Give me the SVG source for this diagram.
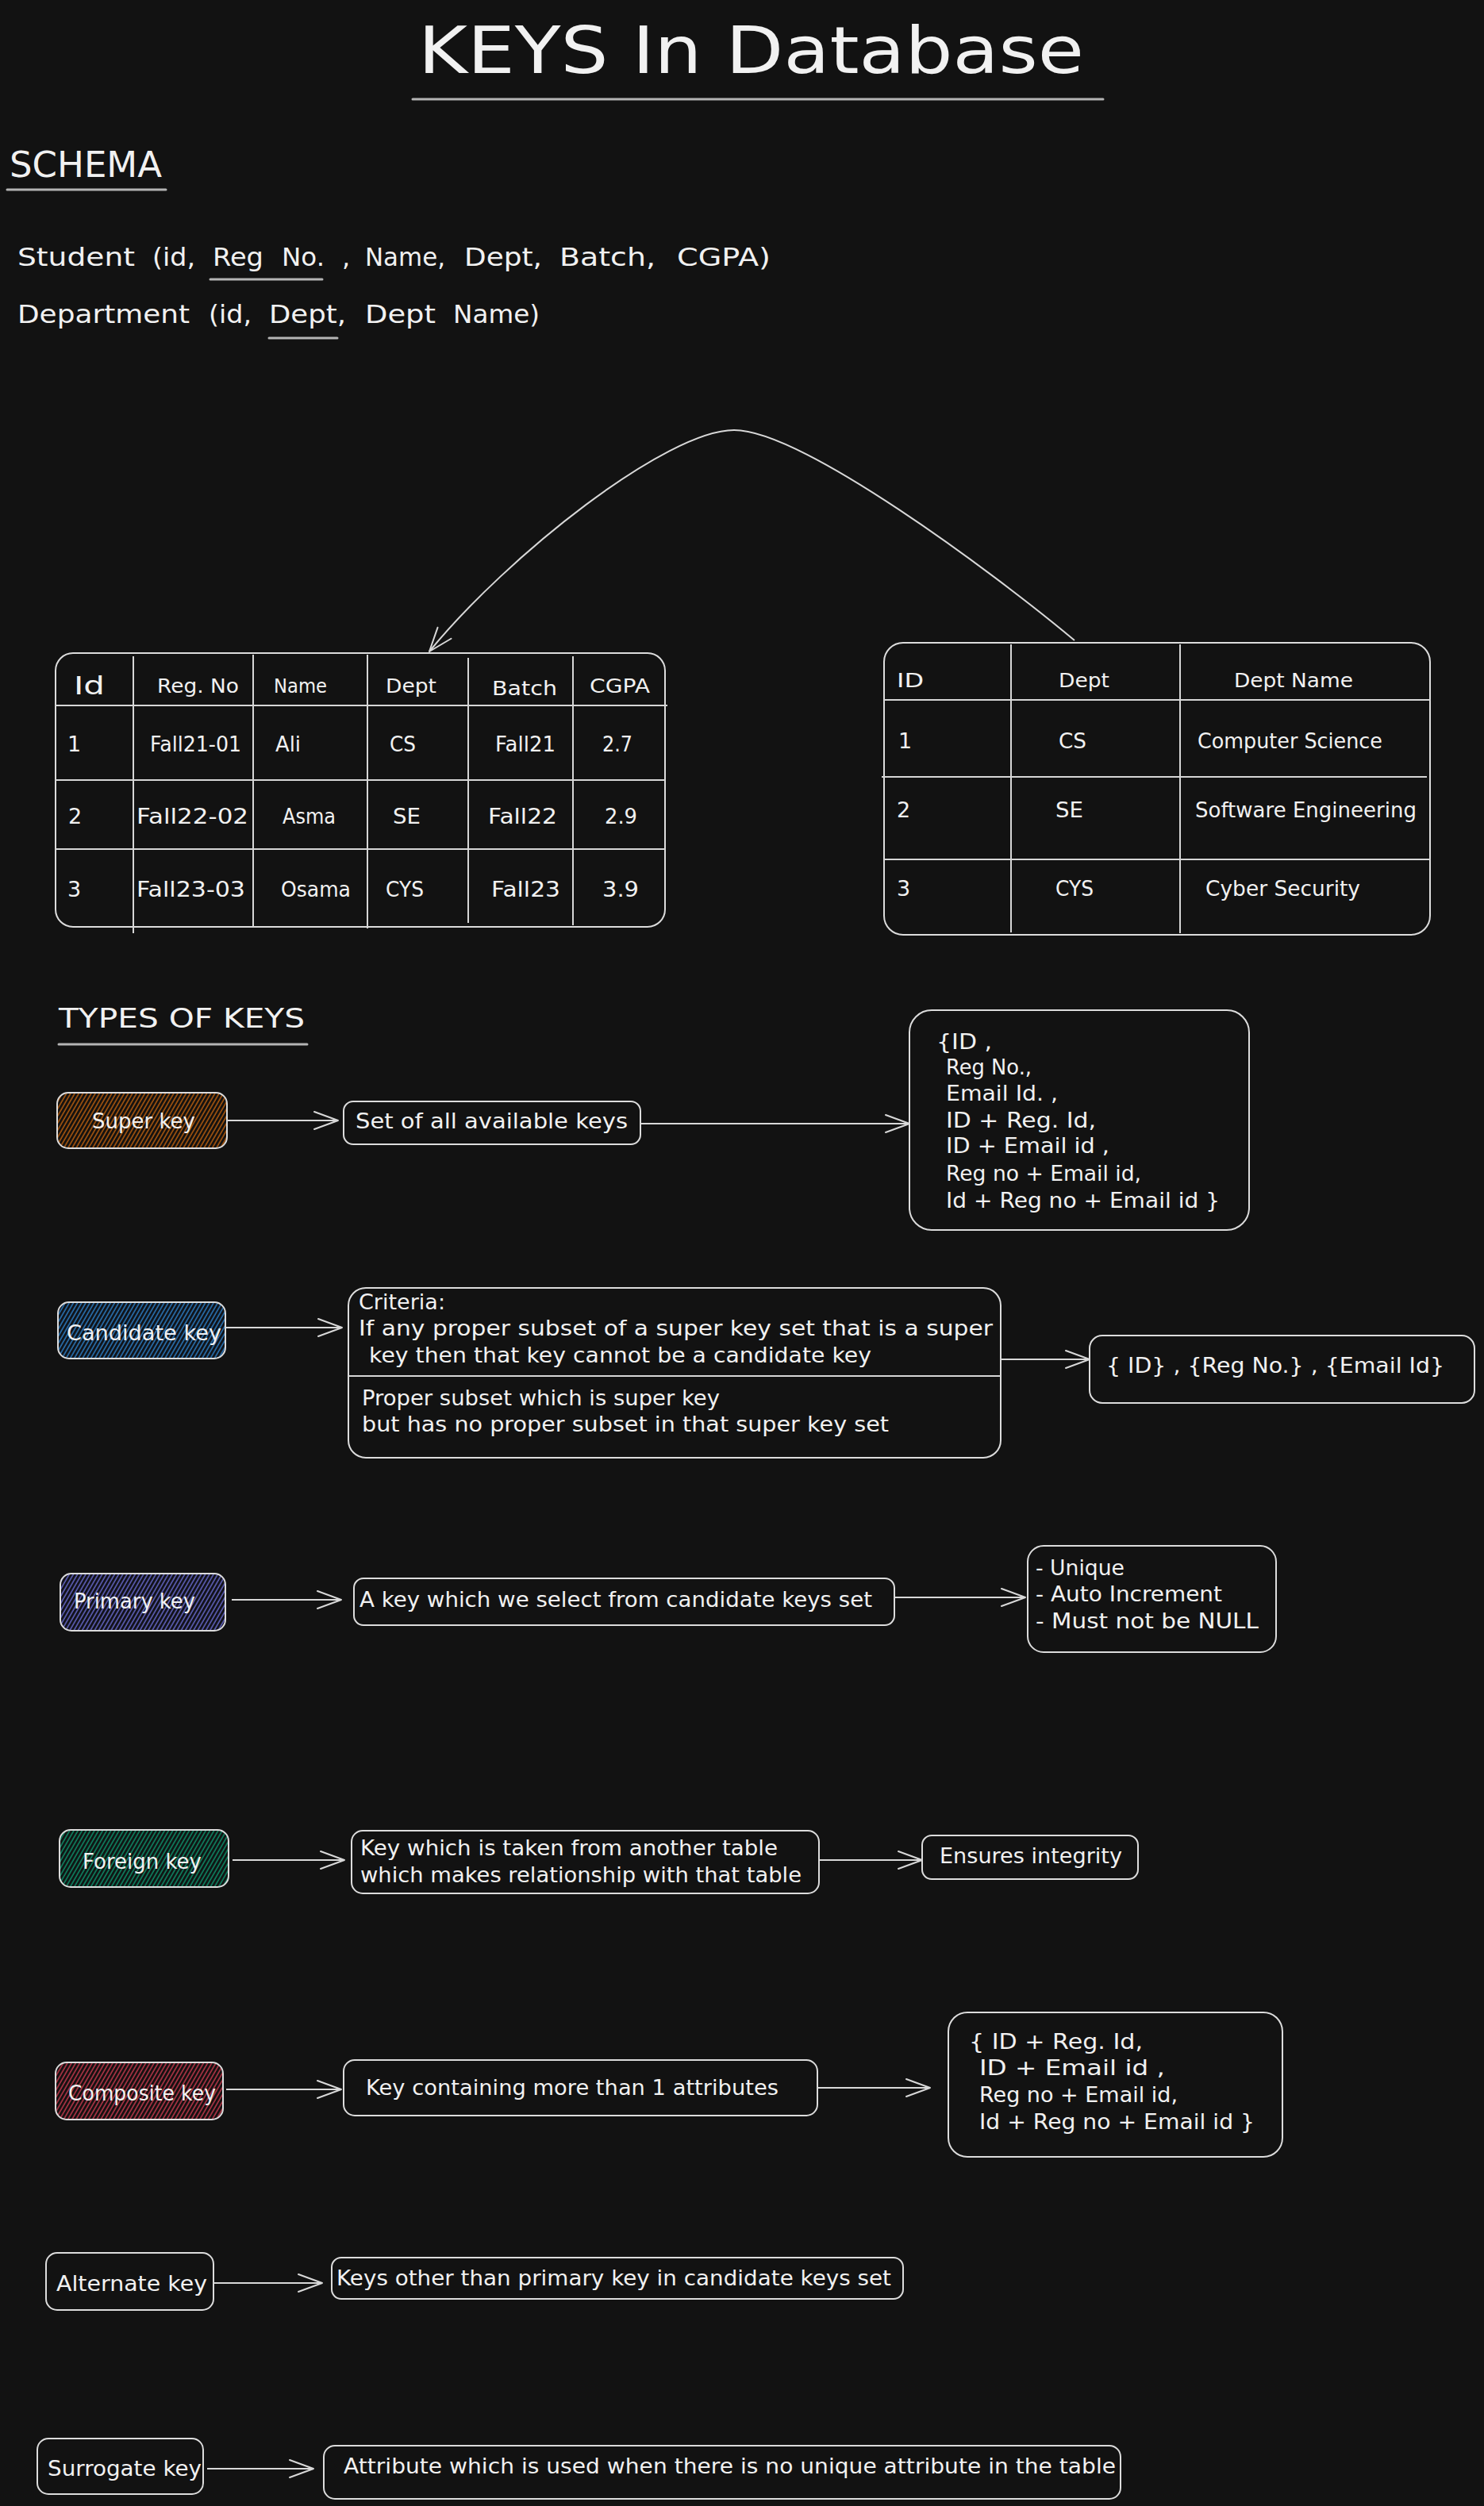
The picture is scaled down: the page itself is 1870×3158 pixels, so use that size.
<svg xmlns="http://www.w3.org/2000/svg" width="1870" height="3158" viewBox="0 0 1870 3158">
<style>
.t{font-family:"DejaVu Sans","Liberation Sans",sans-serif;fill:#f1f1f1}
.s25{font-size:25px}.s26{font-size:26px}.s27{font-size:27px}.s32{font-size:32px}.s34{font-size:34px}.s45{font-size:45px}.s82{font-size:82px}
.bx{fill:none;stroke:#dcdcdc;stroke-width:2}
.ln{stroke:#d6d6d6;stroke-width:2;fill:none}
.ul{stroke:#b4b4b4;stroke-width:3;stroke-linecap:round}
.ar{stroke:#d8d8d8;stroke-width:2;fill:none;marker-end:url(#ah)}
</style>
<defs>
<marker id="ah" viewBox="-34 -16 36 32" refX="0" refY="0" markerWidth="36" markerHeight="32" markerUnits="userSpaceOnUse" orient="auto" overflow="visible">
<path d="M-30,-11 L0,0 L-30,11" fill="none" stroke="#d8d8d8" stroke-width="2" stroke-linecap="round" stroke-linejoin="round"/>
</marker>
<pattern id="hO" width="4.5" height="10" patternUnits="userSpaceOnUse" patternTransform="rotate(30)"><rect width="4.5" height="10" fill="#141210"/><line x1="1" y1="0" x2="1" y2="10" stroke="#c8650e" stroke-width="1.3"/></pattern>
<pattern id="hB" width="4.5" height="10" patternUnits="userSpaceOnUse" patternTransform="rotate(30)"><rect width="4.5" height="10" fill="#10141a"/><line x1="1" y1="0" x2="1" y2="10" stroke="#2f86d2" stroke-width="1.3"/></pattern>
<pattern id="hI" width="4.5" height="10" patternUnits="userSpaceOnUse" patternTransform="rotate(30)"><rect width="4.5" height="10" fill="#12121a"/><line x1="1" y1="0" x2="1" y2="10" stroke="#6e70da" stroke-width="1.3"/></pattern>
<pattern id="hG" width="4.5" height="10" patternUnits="userSpaceOnUse" patternTransform="rotate(30)"><rect width="4.5" height="10" fill="#101614"/><line x1="1" y1="0" x2="1" y2="10" stroke="#0d9a72" stroke-width="1.3"/></pattern>
<pattern id="hR" width="4.5" height="10" patternUnits="userSpaceOnUse" patternTransform="rotate(30)"><rect width="4.5" height="10" fill="#161112"/><line x1="1" y1="0" x2="1" y2="10" stroke="#d23c52" stroke-width="1.3"/></pattern>
</defs>
<rect width="1870" height="3158" fill="#121212"/>

<g id="title">
<text class="t s82" x="527" y="92" textLength="839" lengthAdjust="spacingAndGlyphs">KEYS In Database</text>
<line class="ul" x1="520" y1="125" x2="1390" y2="125"/>
</g>

<g id="schema">
<text class="t s45" x="12" y="223" textLength="192" lengthAdjust="spacingAndGlyphs">SCHEMA</text>
<line class="ul" x1="9" y1="239" x2="209" y2="239"/>
</g>

<g id="schema-student">
<text class="t s32" x="22" y="335" textLength="148" lengthAdjust="spacingAndGlyphs">Student</text>
<text class="t s32" x="192" y="335" textLength="54" lengthAdjust="spacingAndGlyphs">(id,</text>
<text class="t s32" x="268" y="335" textLength="64" lengthAdjust="spacingAndGlyphs">Reg</text>
<text class="t s32" x="355" y="335" textLength="54" lengthAdjust="spacingAndGlyphs">No.</text>
<text class="t s32" x="431" y="335">,</text>
<text class="t s32" x="460" y="335" textLength="101" lengthAdjust="spacingAndGlyphs">Name,</text>
<text class="t s32" x="585" y="335" textLength="98" lengthAdjust="spacingAndGlyphs">Dept,</text>
<text class="t s32" x="705" y="335" textLength="121" lengthAdjust="spacingAndGlyphs">Batch,</text>
<text class="t s32" x="853" y="335" textLength="118" lengthAdjust="spacingAndGlyphs">CGPA)</text>
<line class="ul" x1="265" y1="352" x2="406" y2="352"/>
</g>

<g id="schema-department">
<text class="t s32" x="22" y="407" textLength="217" lengthAdjust="spacingAndGlyphs">Department</text>
<text class="t s32" x="263" y="407" textLength="54" lengthAdjust="spacingAndGlyphs">(id,</text>
<text class="t s32" x="339" y="407" textLength="97" lengthAdjust="spacingAndGlyphs">Dept,</text>
<text class="t s32" x="460" y="407" textLength="89" lengthAdjust="spacingAndGlyphs">Dept</text>
<text class="t s32" x="571" y="407" textLength="109" lengthAdjust="spacingAndGlyphs">Name)</text>
<line class="ul" x1="339" y1="426" x2="425" y2="426"/>
</g>

<g id="student-table">
<rect class="bx" x="70" y="823" width="768" height="345" rx="22"/>
<line class="ln" x1="168" y1="827" x2="168" y2="1176"/>
<line class="ln" x1="319" y1="825" x2="319" y2="1168"/>
<line class="ln" x1="463" y1="825" x2="463" y2="1170"/>
<line class="ln" x1="590" y1="829" x2="590" y2="1163"/>
<line class="ln" x1="722" y1="827" x2="722" y2="1166"/>
<line class="ln" x1="70" y1="889" x2="841" y2="889"/>
<line class="ln" x1="70" y1="983" x2="838" y2="983"/>
<line class="ln" x1="70" y1="1070" x2="838" y2="1070"/>
<text class="t s32" x="93" y="875" textLength="39" lengthAdjust="spacingAndGlyphs">Id</text>
<text class="t s25" x="198" y="873" textLength="103" lengthAdjust="spacingAndGlyphs">Reg. No</text>
<text class="t s25" x="345" y="873" textLength="67" lengthAdjust="spacingAndGlyphs">Name</text>
<text class="t s25" x="486" y="873" textLength="64" lengthAdjust="spacingAndGlyphs">Dept</text>
<text class="t s25" x="620" y="876" textLength="82" lengthAdjust="spacingAndGlyphs">Batch</text>
<text class="t s25" x="743" y="873" textLength="76" lengthAdjust="spacingAndGlyphs">CGPA</text>
<text class="t s27" x="85" y="947">1</text>
<text class="t s27" x="189" y="947" textLength="115" lengthAdjust="spacingAndGlyphs">Fall21-01</text>
<text class="t s27" x="347" y="947" textLength="32" lengthAdjust="spacingAndGlyphs">Ali</text>
<text class="t s27" x="491" y="947" textLength="33" lengthAdjust="spacingAndGlyphs">CS</text>
<text class="t s27" x="624" y="947" textLength="76" lengthAdjust="spacingAndGlyphs">Fall21</text>
<text class="t s27" x="759" y="947" textLength="38" lengthAdjust="spacingAndGlyphs">2.7</text>
<text class="t s27" x="86" y="1038">2</text>
<text class="t s27" x="172" y="1038" textLength="141" lengthAdjust="spacingAndGlyphs">Fall22-02</text>
<text class="t s27" x="356" y="1038" textLength="67" lengthAdjust="spacingAndGlyphs">Asma</text>
<text class="t s27" x="495" y="1038" textLength="35" lengthAdjust="spacingAndGlyphs">SE</text>
<text class="t s27" x="615" y="1038" textLength="87" lengthAdjust="spacingAndGlyphs">Fall22</text>
<text class="t s27" x="762" y="1038" textLength="41" lengthAdjust="spacingAndGlyphs">2.9</text>
<text class="t s27" x="85" y="1130">3</text>
<text class="t s27" x="172" y="1130" textLength="137" lengthAdjust="spacingAndGlyphs">Fall23-03</text>
<text class="t s27" x="354" y="1130" textLength="88" lengthAdjust="spacingAndGlyphs">Osama</text>
<text class="t s27" x="486" y="1130" textLength="48" lengthAdjust="spacingAndGlyphs">CYS</text>
<text class="t s27" x="619" y="1130" textLength="87" lengthAdjust="spacingAndGlyphs">Fall23</text>
<text class="t s27" x="759" y="1130" textLength="46" lengthAdjust="spacingAndGlyphs">3.9</text>
</g>

<g id="department-table">
<rect class="bx" x="1114" y="810" width="688" height="368" rx="24"/>
<line class="ln" x1="1274" y1="812" x2="1274" y2="1175"/>
<line class="ln" x1="1487" y1="812" x2="1487" y2="1176"/>
<line class="ln" x1="1114" y1="882" x2="1802" y2="882"/>
<line class="ln" x1="1111" y1="979" x2="1798" y2="979"/>
<line class="ln" x1="1114" y1="1083" x2="1802" y2="1083"/>
<text class="t s25" x="1130" y="866" textLength="34" lengthAdjust="spacingAndGlyphs">ID</text>
<text class="t s25" x="1334" y="866" textLength="64" lengthAdjust="spacingAndGlyphs">Dept</text>
<text class="t s25" x="1555" y="866" textLength="150" lengthAdjust="spacingAndGlyphs">Dept Name</text>
<text class="t s27" x="1132" y="943">1</text>
<text class="t s27" x="1334" y="943" textLength="35" lengthAdjust="spacingAndGlyphs">CS</text>
<text class="t s27" x="1509" y="943" textLength="233" lengthAdjust="spacingAndGlyphs">Computer Science</text>
<text class="t s27" x="1130" y="1030">2</text>
<text class="t s27" x="1330" y="1030" textLength="35" lengthAdjust="spacingAndGlyphs">SE</text>
<text class="t s27" x="1506" y="1030" textLength="279" lengthAdjust="spacingAndGlyphs">Software Engineering</text>
<text class="t s27" x="1130" y="1129">3</text>
<text class="t s27" x="1330" y="1129" textLength="48" lengthAdjust="spacingAndGlyphs">CYS</text>
<text class="t s27" x="1519" y="1129" textLength="195" lengthAdjust="spacingAndGlyphs">Cyber Security</text>
</g>

<g id="types-heading">
<text class="t s34" x="74" y="1295" textLength="310" lengthAdjust="spacingAndGlyphs">TYPES OF KEYS</text>
<line class="ul" x1="74" y1="1316" x2="387" y2="1316"/>
</g>

<g id="super-key">
<rect x="72" y="1377" width="214" height="70" rx="14" fill="url(#hO)" stroke="#dcdcdc" stroke-width="2"/>
<text class="t s26" x="116" y="1422" textLength="130" lengthAdjust="spacingAndGlyphs">Super key</text>
</g>
<g id="super-key-def">
<rect class="bx" x="433" y="1388" width="374" height="54" rx="12"/>
<text class="t s26" x="448" y="1422" textLength="343" lengthAdjust="spacingAndGlyphs">Set of all available keys</text>
</g>
<g id="super-key-set">
<rect class="bx" x="1146" y="1273" width="428" height="277" rx="28"/>
<text class="t s27" x="1180" y="1322" textLength="70" lengthAdjust="spacingAndGlyphs">{ID ,</text>
<text class="t s27" x="1192" y="1354" textLength="108" lengthAdjust="spacingAndGlyphs">Reg No.,</text>
<text class="t s27" x="1192" y="1387" textLength="141" lengthAdjust="spacingAndGlyphs">Email Id. ,</text>
<text class="t s27" x="1192" y="1421" textLength="189" lengthAdjust="spacingAndGlyphs">ID + Reg. Id,</text>
<text class="t s27" x="1192" y="1453" textLength="206" lengthAdjust="spacingAndGlyphs">ID + Email id ,</text>
<text class="t s27" x="1192" y="1488" textLength="246" lengthAdjust="spacingAndGlyphs">Reg no + Email id,</text>
<text class="t s27" x="1192" y="1522" textLength="345" lengthAdjust="spacingAndGlyphs">Id + Reg no + Email id }</text>
</g>

<g id="candidate-key">
<rect x="73" y="1641" width="211" height="71" rx="14" fill="url(#hB)" stroke="#dcdcdc" stroke-width="2"/>
<text class="t s26" x="84" y="1689" textLength="195" lengthAdjust="spacingAndGlyphs">Candidate key</text>
</g>
<g id="candidate-key-def">
<rect class="bx" x="439" y="1623" width="822" height="214" rx="22"/>
<line class="ln" x1="439" y1="1734" x2="1261" y2="1734"/>
<text class="t s26" x="452" y="1650" textLength="109" lengthAdjust="spacingAndGlyphs">Criteria:</text>
<text class="t s26" x="452" y="1683" textLength="799" lengthAdjust="spacingAndGlyphs">If any proper subset of a super key set that is a super</text>
<text class="t s26" x="465" y="1717" textLength="633" lengthAdjust="spacingAndGlyphs">key then that key cannot be a candidate key</text>
<text class="t s26" x="456" y="1771" textLength="451" lengthAdjust="spacingAndGlyphs">Proper subset which is super key</text>
<text class="t s26" x="456" y="1804" textLength="664" lengthAdjust="spacingAndGlyphs">but has no proper subset in that super key set</text>
</g>
<g id="candidate-key-set">
<rect class="bx" x="1373" y="1683" width="485" height="85" rx="16"/>
<text class="t s26" x="1394" y="1730" textLength="426" lengthAdjust="spacingAndGlyphs">{ ID} , {Reg No.} , {Email Id}</text>
</g>

<g id="primary-key">
<rect x="76" y="1983" width="208" height="72" rx="14" fill="url(#hI)" stroke="#dcdcdc" stroke-width="2"/>
<text class="t s26" x="93" y="2027" textLength="153" lengthAdjust="spacingAndGlyphs">Primary key</text>
</g>
<g id="primary-key-def">
<rect class="bx" x="446" y="1989" width="681" height="59" rx="12"/>
<text class="t s26" x="453" y="2025" textLength="646" lengthAdjust="spacingAndGlyphs">A key which we select from candidate keys set</text>
</g>
<g id="primary-key-props">
<rect class="bx" x="1295" y="1948" width="313" height="134" rx="20"/>
<text class="t s26" x="1305" y="1985" textLength="112" lengthAdjust="spacingAndGlyphs">- Unique</text>
<text class="t s26" x="1305" y="2018" textLength="235" lengthAdjust="spacingAndGlyphs">- Auto Increment</text>
<text class="t s26" x="1305" y="2052" textLength="281" lengthAdjust="spacingAndGlyphs">- Must not be NULL</text>
</g>

<g id="foreign-key">
<rect x="75" y="2306" width="213" height="72" rx="14" fill="url(#hG)" stroke="#dcdcdc" stroke-width="2"/>
<text class="t s26" x="104" y="2355" textLength="150" lengthAdjust="spacingAndGlyphs">Foreign key</text>
</g>
<g id="foreign-key-def">
<rect class="bx" x="443" y="2307" width="589" height="79" rx="14"/>
<text class="t s26" x="454" y="2338" textLength="526" lengthAdjust="spacingAndGlyphs">Key which is taken from another table</text>
<text class="t s26" x="454" y="2372" textLength="556" lengthAdjust="spacingAndGlyphs">which makes relationship with that table</text>
</g>
<g id="foreign-key-note">
<rect class="bx" x="1162" y="2313" width="272" height="55" rx="12"/>
<text class="t s26" x="1184" y="2348" textLength="230" lengthAdjust="spacingAndGlyphs">Ensures integrity</text>
</g>

<g id="composite-key">
<rect x="70" y="2599" width="211" height="72" rx="14" fill="url(#hR)" stroke="#dcdcdc" stroke-width="2"/>
<text class="t s26" x="86" y="2647" textLength="186" lengthAdjust="spacingAndGlyphs">Composite key</text>
</g>
<g id="composite-key-def">
<rect class="bx" x="433" y="2596" width="597" height="70" rx="14"/>
<text class="t s26" x="461" y="2640" textLength="520" lengthAdjust="spacingAndGlyphs">Key containing more than 1 attributes</text>
</g>
<g id="composite-key-set">
<rect class="bx" x="1195" y="2536" width="421" height="182" rx="24"/>
<text class="t s26" x="1221" y="2582" textLength="219" lengthAdjust="spacingAndGlyphs">{ ID + Reg. Id,</text>
<text class="t s26" x="1234" y="2615" textLength="234" lengthAdjust="spacingAndGlyphs">ID + Email id ,</text>
<text class="t s26" x="1234" y="2649" textLength="250" lengthAdjust="spacingAndGlyphs">Reg no + Email id,</text>
<text class="t s26" x="1234" y="2683" textLength="347" lengthAdjust="spacingAndGlyphs">Id + Reg no + Email id }</text>
</g>

<g id="alternate-key">
<rect class="bx" x="58" y="2839" width="211" height="72" rx="14"/>
<text class="t s26" x="71" y="2887" textLength="190" lengthAdjust="spacingAndGlyphs">Alternate key</text>
</g>
<g id="alternate-key-def">
<rect class="bx" x="418" y="2845" width="720" height="52" rx="12"/>
<text class="t s26" x="424" y="2880" textLength="699" lengthAdjust="spacingAndGlyphs">Keys other than primary key in candidate keys set</text>
</g>

<g id="surrogate-key">
<rect class="bx" x="47" y="3073" width="209" height="70" rx="14"/>
<text class="t s26" x="60" y="3120" textLength="194" lengthAdjust="spacingAndGlyphs">Surrogate key</text>
</g>
<g id="surrogate-key-def">
<rect class="bx" x="408" y="3082" width="1004" height="67" rx="14"/>
<text class="t s26" x="433" y="3117" textLength="973" lengthAdjust="spacingAndGlyphs">Attribute which is used when there is no unique attribute in the table</text>
</g>

<g id="connectors">
<path class="ar" d="M1354,807 C1250,720 1010,542 925,542 C840,542 640,700 541,821"/>
<path class="ar" d="M286,1412 L426,1412"/>
<path class="ar" d="M807,1416 L1146,1416"/>
<path class="ar" d="M284,1673 L431,1673"/>
<path class="ar" d="M1261,1713 L1373,1713"/>
<path class="ar" d="M292,2016 L430,2016"/>
<path class="ar" d="M1127,2013 L1292,2013"/>
<path class="ar" d="M293,2344 L434,2344"/>
<path class="ar" d="M1032,2344 L1162,2344"/>
<path class="ar" d="M285,2633 L430,2633"/>
<path class="ar" d="M1030,2631 L1172,2631"/>
<path class="ar" d="M270,2877 L406,2877"/>
<path class="ar" d="M261,3111 L395,3111"/>
</g>
</svg>
